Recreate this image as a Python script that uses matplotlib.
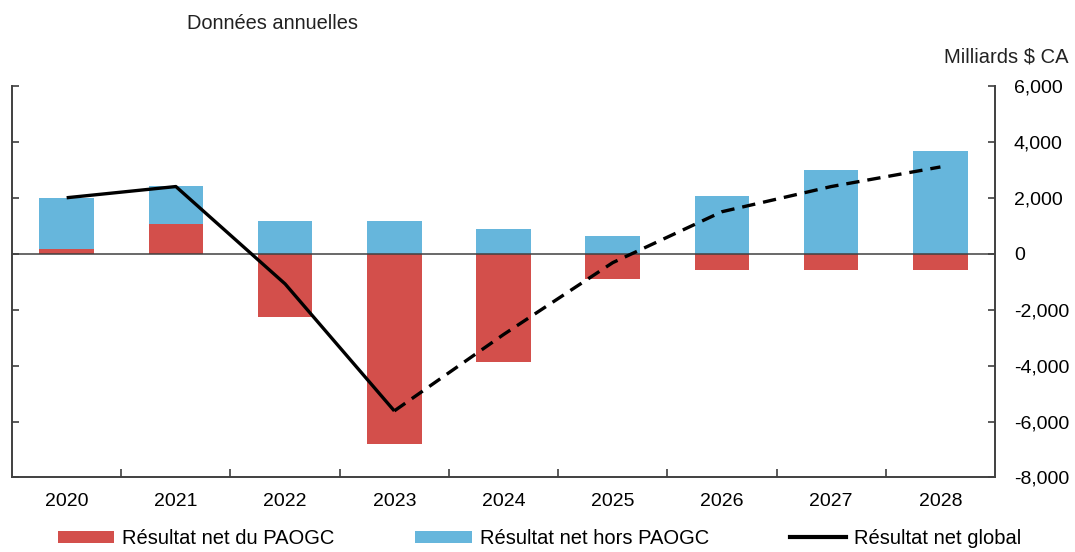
import numpy as np
import matplotlib.pyplot as plt
from matplotlib.patches import Patch
from matplotlib.lines import Line2D

plt.rcParams["font.family"] = ["Liberation Sans", "DejaVu Sans"]

annees = ["2020", "2021", "2022", "2023", "2024", "2025", "2026", "2027", "2028"]
res_paogc = [170, 1075, -2280, -6800, -3880, -920, -570, -570, -570]
res_hors_paogc = [1815, 1350, 1170, 1170, 870, 630, 2065, 2985, 3675]
res_global = [2000, 2400, -1080, -5620, -2890, -320, 1500, 2400, 3100]

ROUGE = "#D34F4B"
BLEU = "#66B6DC"
GRIS = "#404040"

x = np.arange(len(annees))
paogc = np.array(res_paogc)
hors = np.array(res_hors_paogc)

# les barres bleues s'empilent sur le rouge quand celui-ci est positif
base_bleu = np.where(paogc > 0, paogc, 0)

fig = plt.figure(figsize=(10.75, 5.52), dpi=100)
ax = fig.add_axes([0.0112, 0.135, 0.9144, 0.7095])

ax.bar(x, paogc, width=0.5, color=ROUGE, zorder=2)
ax.bar(x, hors, width=0.5, bottom=base_bleu, color=BLEU, zorder=2)
ax.axhline(0, color=GRIS, lw=1.1, zorder=3)

# historique en trait plein, projection en pointillé
ax.plot(x[:4], res_global[:4], color="black", lw=2.4, zorder=4,
        solid_capstyle="butt")
ax.plot(x[3:], res_global[3:], color="black", lw=2.4, zorder=4,
        dashes=(4, 2.4))

ax.set_xlim(-0.5, len(annees) - 0.5)
ax.set_ylim(-8000, 6000)

ax.yaxis.tick_right()
ax.set_yticks(np.arange(-8000, 6001, 2000))
ax.set_yticklabels([f"{v:,}" for v in range(-8000, 6001, 2000)])
ax.tick_params(axis="y", which="major", direction="in", length=5, width=1.2,
               color=GRIS, labelsize=14, pad=13.5, left=True, right=True,
               labelleft=False, labelright=True)

ax.set_xticks(x)
ax.set_xticklabels(annees)
ax.set_xticks(np.arange(0.5, len(annees) - 1, 1), minor=True)
ax.tick_params(axis="x", which="major", length=0, labelsize=14, pad=11)
ax.tick_params(axis="x", which="minor", direction="in", length=6, width=1.2,
               color=GRIS)

ax.spines["top"].set_visible(False)
for s in ["left", "right", "bottom"]:
    ax.spines[s].set_color(GRIS)
    ax.spines[s].set_linewidth(1.4)

fig.text(0.174, 0.958, "Données annuelles", fontsize=14.4, ha="left",
         va="center", color="#222222")
fig.text(0.994, 0.896, "Milliards $ CA", fontsize=14.5, ha="right",
         va="center", color="#222222")

handles = [
    Patch(facecolor=ROUGE, label="Résultat net du PAOGC"),
    Patch(facecolor=BLEU, label="Résultat net hors PAOGC"),
    Line2D([0], [0], color="black", lw=3, label="Résultat net global"),
]
fig.legend(handles=handles, loc="center", bbox_to_anchor=(0.502, 0.025),
           ncol=3, frameon=False, fontsize=14.5, handlelength=2.8,
           handleheight=0.55, handletextpad=0.4, columnspacing=4.0)

fig.savefig("out.png", dpi=100)
